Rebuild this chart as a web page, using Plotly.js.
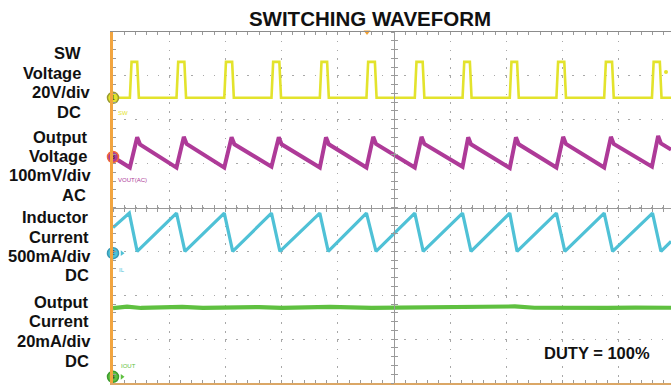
<!DOCTYPE html>
<html><head><meta charset="utf-8">
<script src="https://cdn.plot.ly/plotly-3.0.1.min.js"></script>
<style>html,body{margin:0;padding:0;overflow:hidden;background:#fff}#chart{width:671px;height:386px}</style>
</head><body><div id="chart"></div><script>
// ---- data (time in scope divisions) ----
const swTime = [0,
  0.30,0.33,0.43,0.46, 1.13,1.16,1.27,1.30, 1.98,2.01,2.12,2.15, 2.82,2.85,2.96,2.99,
  3.68,3.71,3.81,3.84, 4.51,4.54,4.66,4.69, 5.37,5.40,5.51,5.54, 6.22,6.25,6.35,6.38,
  7.06,7.09,7.19,7.22, 7.89,7.92,8.03,8.06, 8.74,8.77,8.88,8.91, 9.59,9.62,9.73,9.76,
  9.93];
const swVolts = [0,
  0,16.4,16.4,0, 0,16.4,16.4,0, 0,16.4,16.4,0, 0,16.4,16.4,0,
  0,16.4,16.4,0, 0,16.4,16.4,0, 0,16.4,16.4,0, 0,16.4,16.4,0,
  0,16.4,16.4,0, 0,16.4,16.4,0, 0,16.4,16.4,0, 0,16.4,16.4,0,
  0];
const voutTime = [0,
  0.30,0.43,0.48, 1.13,1.26,1.31, 1.98,2.11,2.16, 2.82,2.95,3.00,
  3.68,3.79,3.84, 4.51,4.63,4.68, 5.37,5.49,5.54, 6.22,6.32,6.37,
  7.06,7.17,7.22, 7.89,8.01,8.06, 8.74,8.86,8.91, 9.59,9.70,9.75,
  9.93];
const voutMilliVolts = [0,
  -24,45,29, -24,46,30, -24,45,29, -22,45,29,
  -24,45,29, -24,46,30, -24,46,30, -22,45,29,
  -25,45,29, -24,46,30, -24,46,30, -22,48,31,
  17];
const ilTime = [0,
  0.29,0.43, 1.13,1.28, 1.98,2.13, 2.82,2.97, 3.68,3.83, 4.51,4.68,
  5.37,5.52, 6.22,6.37, 7.06,7.19, 7.89,8.04, 8.74,8.89, 9.60,9.75,
  9.93];
const ilMilliAmps = [292,
  456,20, 456,20, 456,20, 456,20, 456,20, 456,20,
  456,20, 456,20, 456,20, 456,20, 456,20, 456,20,
  134];
const ioutTime = [0,0.25,0.5,1.0,1.23,1.6,2.3,2.6,3.0,3.5,3.86,4.6,5.2,5.6,6.0,6.6,7.15,7.5,7.8,8.3,8.8,9.3,9.93];
const ioutMilliAmps = [31.3,32.0,31.4,31.5,31.9,31.4,31.6,31.8,31.4,31.5,31.9,31.4,31.6,31.7,31.4,31.6,32.1,31.5,31.4,31.7,31.4,31.6,31.5];

const channelLabels = ['SW','VOUT(AC)','IL','IOUT'];
const channelNumbers = ['1','3','2','4'];
const sideLabels = [
  ['SW','Voltage','20V/div','DC'],
  ['Output','Voltage','100mV/div','AC'],
  ['Inductor','Current','500mA/div','DC'],
  ['Output','Current','20mA/div','DC']
];
const titleText = 'SWITCHING WAVEFORM';
const noteText = 'DUTY = 100%';

// ---- channel settings: units per division, ground offset (div) ----
const ch = {
  sw:   {scale:20,  offset:6.5,  color:'#e3e32c'},
  vout: {scale:100, offset:5.15, color:'#ae3a98'},
  il:   {scale:500, offset:2.96, color:'#4fc1d6'},
  iout: {scale:20,  offset:0.14, color:'#5fc040'}
};
const toDiv = (vals, c) => vals.map(v => c.offset + v / c.scale);

const L = 113, T = 32, B = 3, W = 671, H = 386;
const xMax = (W - L) / 56.2;
const plotH = H - T - B;
const pyToPaper = py => (H - B - py) / plotH;

const graticule = (xa, ya) => ({x:[], y:[], xaxis:xa, yaxis:ya, mode:'lines', hoverinfo:'skip', showlegend:false});

const traces = [
  graticule('x2','y'), graticule('x3','y'), graticule('x4','y'), graticule('x','y2'), graticule('x','y3'),
  {x: swTime, y: toDiv(swVolts, ch.sw), mode:'lines', line:{color:ch.sw.color, width:2.6}, hoverinfo:'skip'},
  {x: voutTime, y: toDiv(voutMilliVolts, ch.vout), mode:'lines', line:{color:ch.vout.color, width:4}, hoverinfo:'skip'},
  {x: ilTime, y: toDiv(ilMilliAmps, ch.il), mode:'lines', line:{color:ch.il.color, width:3.2}, hoverinfo:'skip'},
  {x: ioutTime, y: toDiv(ioutMilliAmps, ch.iout), mode:'lines', line:{color:ch.iout.color, width:4.2}, hoverinfo:'skip'},
  // channel ground markers
  {x:[0,0,0,0], y:[ch.sw.offset, ch.vout.offset, ch.il.offset, ch.iout.offset], mode:'markers+text',
   text: channelNumbers, textposition:'middle center', textfont:{size:7, color:'#333', family:'Liberation Sans'},
   marker:{size:11, color:[ch.sw.color, ch.vout.color, ch.il.color, ch.iout.color],
           line:{width:1.5, color:['#9a9a30','#f06a3a','#3a9ab5','#3e9a2e']}},
   cliponaxis:false, hoverinfo:'skip'},
  {x:[0.16,0.16], y:[ch.il.offset, ch.iout.offset], mode:'markers',
   marker:{symbol:'triangle-right', size:5, color:[ch.il.color, ch.iout.color]}, cliponaxis:false, hoverinfo:'skip'},
  // trigger and level markers
  {x:[4.52], y:[8], mode:'markers', marker:{symbol:'triangle-down', size:6, color:'#f2a030'}, cliponaxis:false, hoverinfo:'skip'},
  {x:[9.84], y:[7.09], mode:'markers', marker:{symbol:'circle', size:4, color:ch.sw.color}, cliponaxis:false, hoverinfo:'skip'}
];

const tickGray = '#9a9a9a';
const baseX = {range:[0,xMax], showticklabels:false, zeroline:false, fixedrange:true, dtick:1};
const baseY = {range:[0,8], showticklabels:false, zeroline:false, fixedrange:true, dtick:1};

const annotations = [];
const sideRight = [[83,83,93,83],[90,89,93,88],[91,91,93,91],[91,91,93,91]];
const sideY = [[52,72,91,111],[136,155,174,194],[216,236,255,274],[301,320,340,360]];
sideLabels.forEach((grp, g) => grp.forEach((t, i) => {
  annotations.push({text:'<b>'+t+'</b>', xref:'paper', yref:'paper', x:0, xshift: sideRight[g][i] - L,
    y: pyToPaper(sideY[g][i] + 1), xanchor:'right', yanchor:'middle', showarrow:false,
    font:{family:'Liberation Sans, Arial, sans-serif', size:16.5, color:'#111'}});
}));
annotations.push({text:'<b>'+noteText+'</b>', xref:'paper', yref:'paper', x:(597-L)/(W-L), y:pyToPaper(353),
  xanchor:'center', yanchor:'middle', showarrow:false, font:{family:'Liberation Sans, Arial, sans-serif', size:16.5, color:'#111'}});
const tinyPos = [[0.18,6.15,ch.sw.color],[0.35,4.63,ch.vout.color],[0.16,2.58,ch.il.color],[0.27,0.39,ch.iout.color]];
channelLabels.forEach((t, i) => annotations.push({text:t, x:tinyPos[i][0], y:tinyPos[i][1], xref:'x', yref:'y',
  showarrow:false, font:{size:6, color:tinyPos[i][2], family:'Liberation Sans'}}));

const minorTicks = dir => ({dtick:0.2, ticks:dir, ticklen:3, tickcolor:tickGray});

const layout = {
  width:W, height:H, margin:{l:L, r:0, t:T, b:B, pad:0},
  paper_bgcolor:'#fff', plot_bgcolor:'#fff', showlegend:false,
  title:{text:'<b>'+titleText+'</b>', x:(370-L)/(W-L), xref:'paper', xanchor:'center', y:1-19/H, yanchor:'middle',
    font:{family:'Liberation Sans, Arial, sans-serif', size:20.5, color:'#111'}},
  xaxis: Object.assign({}, baseX, {showline:true, linecolor:'#dba766', linewidth:2, ticks:'inside', ticklen:3, tickcolor:tickGray,
    minor:minorTicks('inside'), showgrid:true, gridcolor:'#a8a8a8', gridwidth:1, griddash:'1.5px,7.3px'}),
  xaxis2: Object.assign({}, baseX, {overlaying:'x', side:'top', anchor:'y', showline:true, linecolor:'#8c8c8c', linewidth:1,
    ticks:'inside', ticklen:3, tickcolor:tickGray, minor:minorTicks('inside'), showgrid:false}),
  xaxis3: Object.assign({}, baseX, {overlaying:'x', anchor:'free', position:0.5, showline:true, linecolor:'#9a9a9a', linewidth:1,
    ticks:'outside', ticklen:3, tickcolor:tickGray, minor:minorTicks('outside'), showgrid:false}),
  xaxis4: Object.assign({}, baseX, {overlaying:'x', anchor:'free', position:0.5, showline:false,
    ticks:'inside', ticklen:3, tickcolor:tickGray, minor:minorTicks('inside'), showgrid:false}),
  yaxis: Object.assign({}, baseY, {showline:true, linecolor:'#f2a540', linewidth:3, ticks:'inside', ticklen:3, tickcolor:tickGray,
    minor:minorTicks('inside'), showgrid:true, gridcolor:'#a8a8a8', gridwidth:1, griddash:'1.5px,9.7px'}),
  yaxis2: Object.assign({}, baseY, {overlaying:'y', anchor:'free', position:5/xMax, showline:true, linecolor:'#9a9a9a', linewidth:1,
    ticks:'outside', ticklen:3, tickcolor:tickGray, minor:minorTicks('outside'), showgrid:false}),
  yaxis3: Object.assign({}, baseY, {overlaying:'y', anchor:'free', position:5/xMax, showline:false,
    ticks:'inside', ticklen:3, tickcolor:tickGray, minor:minorTicks('inside'), showgrid:false}),
  annotations: annotations
};

Plotly.newPlot('chart', traces, layout, {staticPlot:true, displayModeBar:false});
</script></body></html>
